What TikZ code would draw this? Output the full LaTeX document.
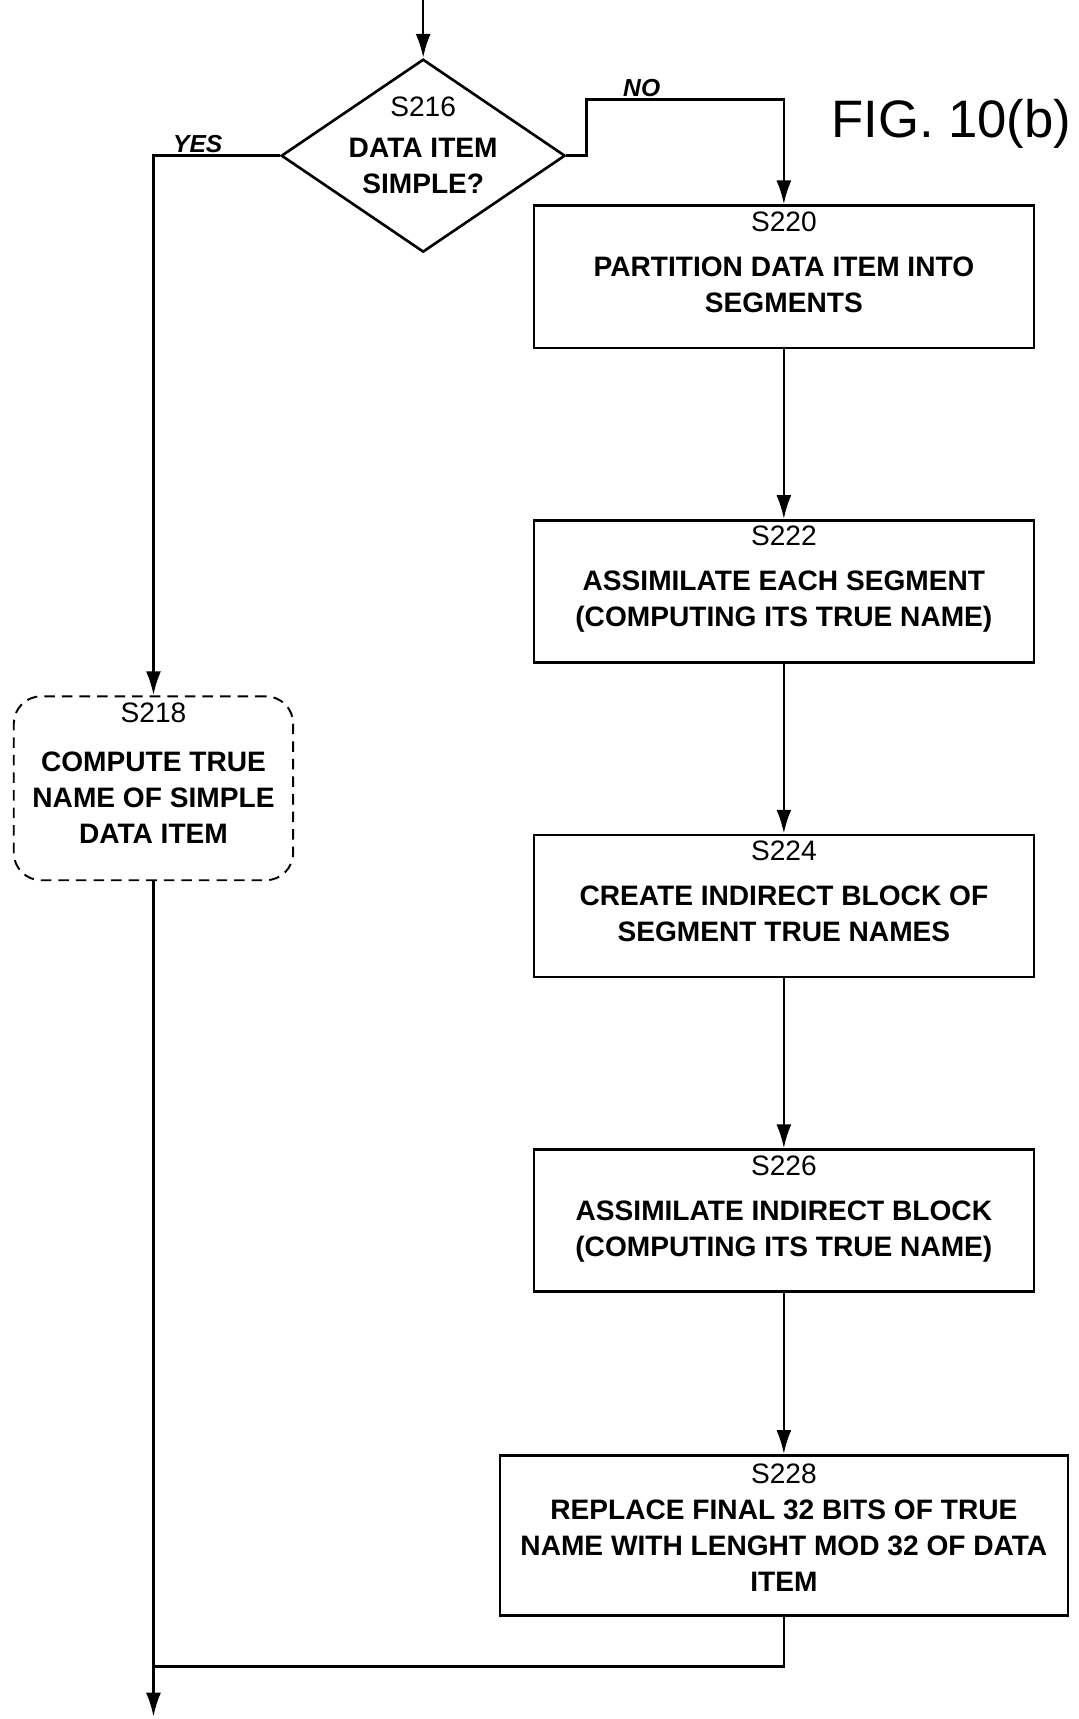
\documentclass[tikz,border=0pt]{standalone}
\usepackage{fontspec}
\setmainfont{Liberation Sans}
\usetikzlibrary{shapes.geometric,arrows.meta,positioning}

\tikzset{lift/.style={execute at end node={\rule[-#1]{0pt}{0pt}}}}
\tikzstyle{box} = [rectangle, draw, line width=1.5pt, align=center, minimum width=10cm, minimum height=2.81cm, font=\fontsize{16}{20.5}\selectfont\bfseries]
\tikzstyle{block} = [box, lift=17pt]
\tikzstyle{wideblock} = [box, lift=9pt, minimum width=11.36cm, minimum height=3.2cm]
\tikzstyle{dashblock} = [box, lift=17pt, rounded corners=0.55cm, dash pattern=on 6pt off 4pt, line width=1.1pt, minimum width=5.59cm, minimum height=3.68cm]
\tikzstyle{decision} = [diamond, draw, line width=1.5pt, inner sep=0pt, minimum width=5.68cm, minimum height=3.86cm, font=\fontsize{16}{20.5}\selectfont\bfseries]
\tikzstyle{arrow} = [line width=1.5pt,->,>={Latex[length=4.8mm,width=3mm]}]
\tikzstyle{line} = [line width=1.5pt]
\tikzstyle{branch} = [above, inner sep=1pt, font=\fontsize{14}{16}\selectfont\bfseries\itshape]
\tikzstyle{figlabel} = [font=\fontsize{30}{34}\selectfont]

\newcommand{\stepno}[1]{{\mdseries #1}}

\begin{document}
\begin{tikzpicture}[node distance=6.294cm]
\useasboundingbox (0,0) rectangle (21.58,-34.386);

\coordinate (start) at (8.465,0);
\node (s216) [decision] at (8.465,-3.114) {\smash{\begin{tabular}{@{}c@{}}\stepno{S216}\\[3pt] DATA ITEM\\ SIMPLE?\end{tabular}}};
\node (fig) [figlabel] at (19.03,-2.478) {FIG. 10(b)};

% right column
\node (s220) [block] at (15.68,-5.537) {\stepno{S220}\\[5pt] PARTITION DATA ITEM INTO\\ SEGMENTS};
\node (s222) [block, below of=s220] {\stepno{S222}\\[5pt] ASSIMILATE EACH SEGMENT\\ (COMPUTING ITS TRUE NAME)};
\node (s224) [block, below of=s222] {\stepno{S224}\\[5pt] CREATE INDIRECT BLOCK OF\\ SEGMENT TRUE NAMES};
\node (s226) [block, below of=s224] {\stepno{S226}\\[5pt] ASSIMILATE INDIRECT BLOCK\\ (COMPUTING ITS TRUE NAME)};
\node (s228) [wideblock, below of=s226] {\stepno{S228}\\ REPLACE FINAL 32 BITS OF TRUE\\ NAME WITH LENGHT MOD 32 OF DATA\\ ITEM};

% left column
\node (s218) [dashblock] at (3.07,-15.768) {\stepno{S218}\\[7pt] COMPUTE TRUE\\ NAME OF SIMPLE\\ DATA ITEM};

\coordinate (yescorner) at (3.07,-3.114);
\coordinate (nobend) at (11.73,-1.996);
\coordinate (nocorner) at (15.68,-1.996);
\coordinate (merge) at (3.07,-33.33);
\coordinate (end) at (3.07,-34.34);

\draw [arrow] (start) -- (s216.north);
\draw [arrow] (s216.west) -- node[branch, pos=0.65] {YES} (yescorner) -- (s218.north);
\draw [arrow] (s216.east) -| (nobend) -- node[branch, pos=0.28] {NO} (nocorner) -- (s220.north);
\draw [arrow] (s220) -- (s222);
\draw [arrow] (s222) -- (s224);
\draw [arrow] (s224) -- (s226);
\draw [arrow] (s226) -- (s228);
\draw [line] (s228.south) |- (merge);
\draw [arrow] (s218.south) -- (end);
\end{tikzpicture}
\end{document}
